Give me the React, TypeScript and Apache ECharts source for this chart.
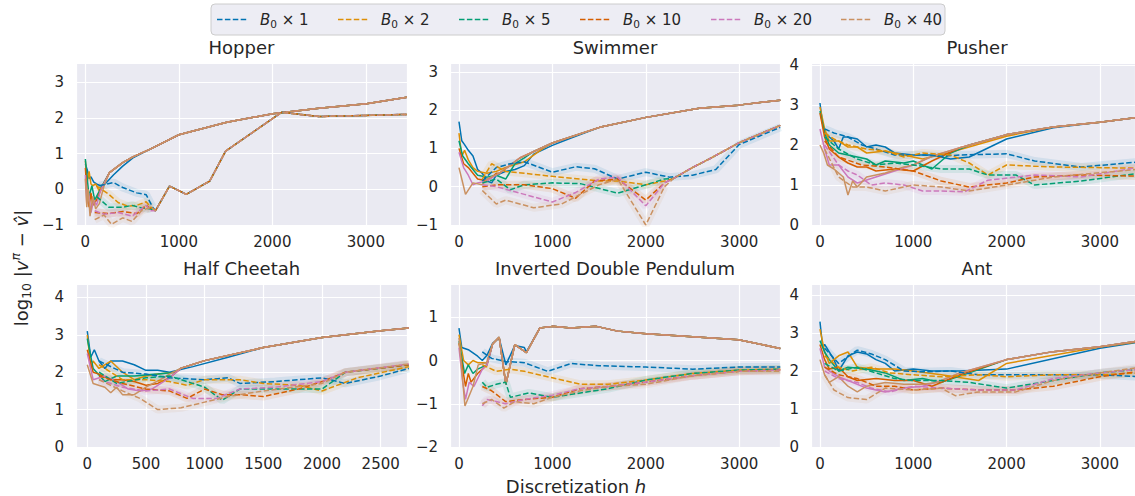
import React, { useEffect, useRef } from 'react';
import * as echarts from 'echarts';

type P = number[][];

const FONT = 'DejaVu Sans';
const TEXT = '#262626';
const COLORS = ['#0173b2', '#de8f05', '#029e73', '#d55e00', '#cc78bc', '#ca9161'];
const MULTIPLIERS = ['1', '2', '5', '10', '20', '40'];
const TITLES = ['Hopper', 'Swimmer', 'Pusher', 'Half Cheetah', 'Inverted Double Pendulum', 'Ant'];

// ---------- Hopper ----------
const hopperUpper: P = [[150, -0.05], [258, 0.47], [400, 0.75], [509, 0.91], [688, 1.12], [1000, 1.53], [1513, 1.88], [2004, 2.12], [2500, 2.27], [3007, 2.4], [3440, 2.58]];
const hopperSolidEarly: P[] = [
  [[0, 0.7], [20, 0.55], [40, 0.3], [60, 0.35], [90, 0.2], [120, 0.15], [160, 0.1], [200, 0.12], [300, 0.4], [400, 0.65], [509, 0.88]],
  [[0, 0.8], [20, 0.2], [40, 0.5], [60, 0.15], [80, 0.1], [110, 0.15], [150, -0.05]],
  [[0, 0.85], [20, 0.3], [40, -0.2], [70, 0.1], [100, -0.3], [130, -0.15], [170, 0.05]],
  [[0, 0.6], [20, -0.2], [40, -0.5], [60, -0.1], [80, -0.45], [120, -0.3], [160, -0.05]],
  [[0, 0.4], [15, -0.4], [35, -0.1], [60, -0.65], [90, -0.3], [120, -0.45], [160, -0.05]],
  [[0, 0.3], [15, -0.5], [30, 0.0], [50, -0.75], [80, -0.2], [110, -0.55], [150, -0.4], [200, 0.1]],
];
const hopperDashedTail: P = [[750, -0.6], [900, 0.09], [1080, -0.14], [1330, 0.23], [1500, 1.07], [2100, 2.16], [2300, 2.1], [2500, 2.04], [3000, 2.07], [3440, 2.1]];
const hopperDashedEarly: P[] = [
  [[150, 0.1], [300, 0.19], [400, 0.05], [550, -0.1], [650, -0.15], [720, -0.5]],
  [[120, 0.1], [250, -0.14], [350, -0.37], [450, -0.47], [550, -0.45], [650, -0.35], [700, -0.5]],
  [[120, -0.2], [250, -0.5], [400, -0.5], [500, -0.45], [600, -0.52], [700, -0.55]],
  [[100, -0.65], [250, -0.68], [400, -0.62], [550, -0.68], [650, -0.45], [700, -0.55]],
  [[100, -0.6], [200, -0.7], [350, -0.65], [500, -0.75], [650, -0.45], [700, -0.6]],
  [[100, -0.85], [200, -0.72], [280, -0.98], [400, -0.8], [500, -0.9], [600, -0.6], [700, -0.5]],
];

// ---------- Swimmer ----------
const swimmerUpper: P = [[300, 0.2], [438, 0.36], [651, 0.75], [1000, 1.14], [1505, 1.55], [2004, 1.81], [2573, 2.05], [2993, 2.13], [3440, 2.26]];
const swimmerSolidEarly: P[] = [
  [[0, 1.7], [30, 1.2], [60, 1.1], [100, 0.95], [150, 0.8], [200, 0.45], [250, 0.35], [300, 0.15], [350, 0.1], [400, 0.3], [500, 0.4], [600, 0.45], [700, 0.55], [800, 0.85], [1000, 1.08], [1200, 1.27]],
  [[0, 1.4], [30, 0.8], [60, 0.95], [100, 0.7], [150, 0.5], [200, 0.4], [300, 0.35], [400, 0.4], [500, 0.5], [700, 0.65], [900, 1.0]],
  [[0, 1.2], [40, 0.8], [100, 0.6], [200, 0.3], [300, 0.25], [400, 0.3], [500, 0.2], [600, 0.6], [700, 0.75], [800, 0.92]],
  [[0, 1.0], [50, 0.6], [100, 0.5], [200, 0.2], [300, 0.15], [400, 0.35]],
  [[0, 0.9], [50, 0.5], [100, 0.3], [150, 0.05], [200, 0.1], [300, 0.15]],
  [[0, 0.5], [30, 0.2], [70, -0.2], [150, 0.1], [250, 0.05], [300, 0.2]],
];
const swimmerDashedTail: P = [[2300, 0.22], [2500, 0.5], [2700, 0.75], [3000, 1.15], [3440, 1.6]];
const swimmerDashedEarly: P[] = [
  [[250, 0.15], [400, 0.5], [550, 0.6], [700, 0.65], [1000, 0.38], [1250, 0.52], [1450, 0.47], [1700, 0.2], [2000, 0.38], [2250, 0.25], [2500, 0.3], [2750, 0.45], [3000, 1.1], [3440, 1.55]],
  [[250, 0.2], [350, 0.6], [500, 0.4], [700, 0.35], [1000, 0.27], [1500, 0.15], [1700, 0.15], [2000, 0.05], [2200, 0.15]],
  [[250, 0.1], [400, 0.2], [550, -0.08], [700, 0.05], [1000, 0.1], [1300, 0.08], [1700, -0.17], [2000, 0.05], [2200, 0.2]],
  [[250, 0.0], [400, 0.05], [700, 0.05], [1000, -0.05], [1250, -0.3], [1450, 0.15], [1700, 0.2], [2000, -0.35], [2200, 0.1]],
  [[250, 0.05], [400, 0.0], [700, -0.2], [1000, -0.4], [1250, -0.15], [1500, 0.2], [1700, 0.25], [2000, -0.5], [2200, 0.1]],
  [[250, -0.1], [400, -0.45], [500, -0.35], [800, -0.55], [1100, -0.45], [1500, 0.05], [1700, 0.2], [2000, -1.0], [2200, 0.0]],
];

// ---------- Pusher ----------
const pusherUpper: P = [[1000, 1.5], [1200, 1.72], [1500, 1.93], [2000, 2.26], [2500, 2.45], [3000, 2.57], [3440, 2.7]];
const pusherSolidEarly: P[] = [
  [[0, 3.05], [30, 2.5], [60, 2.3], [100, 2.2], [150, 2.1], [200, 1.9], [250, 2.2], [300, 2.2], [400, 2.15], [500, 1.95], [600, 2.0], [700, 1.95], [800, 1.8], [1000, 1.75], [1200, 1.75], [1400, 1.65], [1600, 1.7], [2000, 2.15], [2500, 2.43]],
  [[0, 2.95], [50, 2.4], [100, 2.1], [200, 2.1], [300, 1.95], [400, 1.95], [500, 1.8], [700, 1.85], [900, 1.75], [1100, 1.65], [1400, 1.82], [2000, 2.22]],
  [[0, 2.85], [50, 2.3], [100, 2.0], [200, 1.8], [300, 1.75], [400, 1.7], [500, 1.65], [600, 1.5], [700, 1.6], [900, 1.55], [1000, 1.6], [1200, 1.4], [1400, 1.8], [1600, 2.0]],
  [[0, 2.8], [50, 2.2], [100, 1.9], [200, 1.7], [300, 1.55], [400, 1.45], [500, 1.45], [600, 1.35], [800, 1.4], [1000, 1.35], [1200, 1.6], [1500, 1.93]],
  [[0, 2.4], [50, 1.9], [100, 1.5], [200, 1.5], [300, 1.2], [400, 1.05], [600, 1.2], [800, 1.35]],
  [[0, 2.0], [40, 1.8], [80, 1.5], [150, 1.4], [250, 1.2], [300, 0.75], [350, 1.1], [400, 0.95], [500, 1.2], [700, 1.3], [900, 1.45]],
];
const pusherDashed: P[] = [
  [[50, 2.4], [150, 2.3], [300, 2.2], [450, 2.0], [600, 1.9], [800, 1.75], [1100, 1.75], [1300, 1.72], [1500, 1.75], [2000, 1.78], [2300, 1.6], [2800, 1.45], [3440, 1.58]],
  [[50, 2.3], [150, 2.15], [300, 2.0], [500, 1.9], [700, 1.85], [900, 1.7], [1100, 1.8], [1400, 1.75], [1600, 1.55], [1800, 1.25], [2000, 1.5], [2500, 1.45], [3440, 1.42]],
  [[50, 2.2], [200, 1.9], [400, 1.65], [600, 1.5], [800, 1.55], [1000, 1.5], [1300, 1.4], [1600, 1.4], [1800, 1.25], [2100, 1.25], [2300, 1.0], [2800, 1.1], [3440, 1.3]],
  [[50, 2.1], [200, 1.7], [450, 1.5], [700, 1.45], [1000, 1.35], [1300, 1.1], [1600, 0.95], [2000, 1.05], [2300, 1.2], [2800, 1.25], [3440, 1.22]],
  [[50, 2.0], [200, 1.5], [300, 1.35], [400, 1.25], [550, 1.0], [700, 1.05], [900, 1.0], [1100, 0.85], [1300, 0.85], [1550, 0.83], [1800, 1.12], [2300, 1.25], [2800, 1.2], [3440, 1.45]],
  [[50, 1.9], [200, 1.2], [350, 0.95], [500, 0.95], [700, 0.85], [1000, 1.0], [1300, 0.95], [1600, 0.85], [2000, 1.0], [2500, 1.2], [3440, 1.4]],
];

// ---------- Half Cheetah ----------
const hcUpper: P = [[700, 1.95], [800, 2.11], [1000, 2.31], [1500, 2.66], [2000, 2.93], [2500, 3.11], [2740, 3.18]];
const hcSolidEarly: P[] = [
  [[0, 3.1], [30, 2.4], [60, 2.6], [100, 2.3], [150, 2.1], [200, 2.3], [300, 2.3], [400, 2.2], [500, 2.05], [600, 2.05], [700, 2.0], [900, 2.15], [1200, 2.4]],
  [[0, 3.0], [30, 2.1], [50, 2.3], [100, 2.1], [200, 2.3], [300, 2.0], [400, 1.8], [500, 1.9], [600, 1.95], [750, 2.0]],
  [[0, 2.9], [50, 2.1], [150, 1.75], [250, 1.9], [400, 1.9], [600, 1.95], [750, 2.0]],
  [[0, 2.6], [50, 2.0], [100, 1.95], [200, 1.8], [300, 1.8], [400, 1.75], [500, 1.65], [600, 1.7], [700, 1.85]],
  [[0, 2.5], [50, 1.8], [150, 1.9], [250, 1.75], [350, 1.55], [450, 1.5], [550, 1.55], [700, 1.85]],
  [[0, 2.2], [50, 1.7], [150, 1.6], [200, 1.45], [250, 1.6], [300, 1.4], [400, 1.4], [500, 1.6], [650, 1.85]],
];
const hcDashed: P[] = [
  [[100, 2.3], [300, 2.0], [500, 1.95], [700, 1.85], [1000, 1.8], [1200, 1.85], [1300, 1.7], [1600, 1.75], [2000, 1.85], [2200, 1.7], [2500, 1.9], [2740, 2.1]],
  [[100, 2.2], [300, 1.8], [500, 1.8], [700, 1.75], [850, 1.65], [1000, 1.8], [1300, 1.8], [1500, 1.7], [1800, 1.65], [2000, 1.5], [2300, 1.85], [2740, 2.15]],
  [[100, 2.0], [250, 1.7], [500, 1.85], [700, 1.9], [1000, 1.6], [1150, 1.25], [1300, 1.55], [1600, 1.55], [2000, 1.55], [2200, 2.0], [2740, 2.2]],
  [[100, 1.9], [300, 1.7], [500, 1.55], [700, 1.5], [850, 1.3], [1000, 1.55], [1150, 1.4], [1300, 1.4], [1500, 1.35], [1800, 1.55], [2000, 1.75], [2200, 2.0], [2740, 2.2]],
  [[100, 1.8], [300, 1.6], [500, 1.5], [700, 1.55], [900, 1.3], [1100, 1.3], [1300, 1.55], [1600, 1.6], [2000, 1.75], [2200, 2.0], [2740, 2.22]],
  [[100, 1.8], [300, 1.5], [450, 1.3], [600, 1.0], [800, 1.05], [1000, 1.2], [1200, 1.35], [1500, 1.5], [2000, 1.7], [2200, 2.0], [2740, 2.22]],
];

// ---------- Inverted Double Pendulum ----------
const idpUpper: P = [[0, 0.52], [64, -1.05], [150, -0.6], [206, -0.1], [295, -0.05], [360, 0.38], [430, 0.54], [502, -0.55], [598, 0.37], [722, 0.18], [865, 0.75], [1000, 0.79], [1200, 0.75], [1470, 0.79], [1700, 0.68], [2004, 0.62], [2500, 0.55], [2993, 0.48], [3440, 0.28]];
const idpSolidEarly: P[] = [
  [[0, 0.75], [30, 0.3], [100, 0.25], [200, 0.1], [250, 0.0], [300, 0.12], [360, 0.4], [430, 0.52], [502, -0.1], [598, 0.35], [700, 0.3], [722, 0.2]],
  [[0, 0.6], [50, 0.0], [100, -0.1], [150, 0.0], [200, -0.05], [300, -0.05]],
  [[0, 0.45], [60, -0.3], [100, -0.1], [150, -0.3], [200, -0.2], [300, -0.1]],
  [[0, 0.4], [40, -0.2], [70, -0.6], [100, -0.3], [130, -0.5], [200, -0.3], [300, -0.1]],
  [[0, 0.3], [40, -0.5], [70, -0.9], [110, -0.5], [160, -0.6], [250, -0.2], [300, -0.1]],
  [[0, 0.52]],
];
const idpDashed: P[] = [
  [[250, 0.2], [350, 0.05], [500, -0.02], [700, -0.05], [950, -0.25], [1200, -0.07], [1500, -0.12], [2000, -0.15], [2500, -0.2], [3000, -0.15], [3440, -0.15]],
  [[250, -0.1], [400, -0.25], [550, -0.2], [700, -0.25], [1000, -0.4], [1300, -0.55], [1600, -0.55], [2000, -0.45], [2500, -0.3], [3000, -0.22], [3440, -0.2]],
  [[250, -0.5], [300, -0.62], [400, -0.55], [500, -0.5], [550, -0.85], [750, -0.75], [1000, -0.85], [1300, -0.75], [1600, -0.65], [2000, -0.45], [2500, -0.3], [3000, -0.22], [3440, -0.2]],
  [[250, -0.6], [350, -0.7], [500, -0.95], [700, -0.9], [1000, -0.85], [1300, -0.65], [1600, -0.6], [2000, -0.5], [2500, -0.35], [3000, -0.25], [3440, -0.22]],
  [[250, -1.05], [300, -0.9], [400, -0.95], [500, -1.0], [700, -0.9], [1000, -0.8], [1300, -0.65], [1600, -0.6], [2000, -0.5], [2500, -0.35], [3000, -0.25], [3440, -0.22]],
  [[250, -1.0], [350, -0.9], [480, -1.1], [600, -0.95], [800, -1.0], [1000, -0.85], [1300, -0.7], [1600, -0.6], [2000, -0.55], [2500, -0.35], [3000, -0.25], [3440, -0.25]],
];

// ---------- Ant ----------
const antUpper: P = [[1250, 1.7], [1500, 1.95], [2000, 2.3], [2500, 2.51], [3000, 2.64], [3440, 2.8]];
const antSolidEarly: P[] = [
  [[0, 3.3], [30, 2.6], [50, 2.7], [100, 2.5], [150, 2.3], [200, 2.0], [300, 2.4], [400, 2.5], [500, 2.45], [600, 2.3], [700, 2.2], [800, 2.0], [1000, 2.05], [1200, 2.0], [1500, 2.0], [2000, 2.05], [3000, 2.6], [3440, 2.77]],
  [[0, 3.1], [50, 2.5], [100, 2.2], [200, 2.4], [300, 2.5], [400, 2.1], [600, 2.05], [800, 2.05], [1000, 2.0], [1300, 1.9], [1700, 1.75], [2000, 2.2], [3000, 2.63], [3440, 2.78]],
  [[0, 2.8], [50, 2.5], [100, 2.3], [200, 2.0], [300, 2.1], [500, 2.05], [700, 1.95], [900, 1.75], [1100, 1.8], [1300, 1.7], [1600, 1.95]],
  [[0, 2.7], [50, 2.3], [100, 2.05], [200, 2.1], [300, 1.85], [400, 1.75], [600, 1.8], [800, 1.75], [1000, 1.75], [1200, 1.6], [1500, 1.9]],
  [[0, 2.6], [50, 2.1], [100, 2.0], [200, 1.85], [300, 1.75], [500, 1.55], [700, 1.45], [900, 1.55], [1100, 1.6], [1300, 1.75]],
  [[0, 2.3], [50, 1.9], [100, 1.7], [200, 1.85], [300, 1.6], [400, 1.45], [500, 1.6], [700, 1.7], [900, 1.65], [1100, 1.65]],
];
const antDashed: P[] = [
  [[50, 2.6], [200, 2.2], [400, 2.55], [550, 2.45], [700, 2.3], [900, 2.0], [1100, 1.98], [1400, 2.0], [1700, 1.9], [2000, 1.9], [2500, 1.9], [3000, 1.9], [3440, 1.85]],
  [[50, 2.4], [200, 2.1], [350, 2.0], [550, 2.1], [750, 1.95], [1000, 1.9], [1300, 1.85], [1700, 1.9], [2000, 1.85], [2500, 1.9], [3000, 1.9], [3440, 1.95]],
  [[50, 2.2], [200, 2.0], [400, 2.1], [600, 1.95], [800, 1.8], [1000, 1.75], [1300, 1.75], [1600, 1.7], [2000, 1.55], [2500, 1.75], [3000, 1.95], [3440, 2.05]],
  [[50, 2.1], [200, 1.9], [400, 1.8], [600, 1.6], [800, 1.6], [1000, 1.5], [1300, 1.55], [1700, 1.5], [2100, 1.5], [2500, 1.6], [3000, 1.85], [3440, 2.0]],
  [[50, 2.0], [200, 1.8], [400, 1.7], [550, 1.55], [750, 1.45], [1000, 1.6], [1300, 1.55], [1700, 1.5], [2100, 1.5], [2500, 1.8], [3000, 1.95], [3440, 2.05]],
  [[50, 1.9], [150, 1.5], [300, 1.3], [500, 1.25], [700, 1.55], [1000, 1.5], [1300, 1.55], [1450, 1.35], [1700, 1.45], [2100, 1.45], [2500, 1.75], [3000, 1.95], [3440, 2.1]],
];

function join(early: P, tail: P): P {
  const last = early[early.length - 1][0];
  return early.concat(tail.filter((p) => p[0] > last));
}

const SOLID: P[][] = [
  hopperSolidEarly.map((e) => join(e, hopperUpper)),
  swimmerSolidEarly.map((e) => join(e, swimmerUpper)),
  pusherSolidEarly.map((e) => join(e, pusherUpper)),
  hcSolidEarly.map((e) => join(e, hcUpper)),
  idpSolidEarly.map((e) => join(e, idpUpper)),
  antSolidEarly.map((e) => join(e, antUpper)),
];
const DASHED: P[][] = [
  hopperDashedEarly.map((e) => join(e, hopperDashedTail)),
  swimmerDashedEarly.map((e) => join(e, swimmerDashedTail)),
  pusherDashed,
  hcDashed,
  idpDashed,
  antDashed,
];
// confidence bands drawn only where the runs differ
const BANDS: P[][] = [
  hopperDashedEarly,
  swimmerDashedEarly,
  pusherDashed,
  hcDashed,
  idpDashed,
  antDashed,
];

// layout: left, top, width, height, xMin, xMax, xSplit, yMin, yMax
const LAYOUT = [
  [76, 63, 331, 162, -100, 3440, 4, -1, 3.54],
  [450, 63, 330, 162, -96, 3437, 4, -1, 3.23],
  [811, 63, 324, 162, -96, 3376, 4, 0, 4.05],
  [76, 284, 331, 163, -96, 2724, 5, 0, 4.36],
  [450, 284, 330, 163, -96, 3437, 4, -2, 1.77],
  [811, 284, 324, 163, -96, 3376, 4, 0, 4.29],
];
const TITLE_POS = [[241.5, 47], [615, 47], [977, 47], [241.5, 268], [615, 268], [977, 268]];
const LEGEND_X = [217, 338, 459, 580, 711, 841];

const fmt = (v: number) => (v < 0 ? '\u2212' + Math.abs(v) : String(v));

export default function App() {
  const ref = useRef<HTMLDivElement>(null);
  useEffect(() => {
    if (!ref.current) return;
    const chart = echarts.init(ref.current, undefined, { renderer: 'svg' });

    const grid = LAYOUT.map((l) => ({
      left: l[0], top: l[1], width: l[2], height: l[3],
      show: true, backgroundColor: '#EAEAF2', borderWidth: 0,
      containLabel: false, outerBoundsMode: 'none',
    }));
    const xAxis = LAYOUT.map((l, i) => ({
      type: 'value', gridIndex: i, min: l[4], max: l[5], splitNumber: l[6],
      axisLine: { show: false }, axisTick: { show: false },
      axisLabel: { color: TEXT, fontSize: 15, fontFamily: FONT, margin: 9, showMinLabel: false, showMaxLabel: false, formatter: fmt },
      splitLine: { show: true, lineStyle: { color: '#ffffff', width: 1.2 } },
    }));
    const yAxis = LAYOUT.map((l, i) => ({
      type: 'value', gridIndex: i, min: l[7], max: l[8], interval: 1,
      axisLine: { show: false }, axisTick: { show: false },
      axisLabel: { color: TEXT, fontSize: 15, fontFamily: FONT, margin: 12, showMinLabel: true, showMaxLabel: false, formatter: fmt },
      splitLine: { show: true, lineStyle: { color: '#ffffff', width: 1.2 } },
    }));

    const series: any[] = [];
    for (let p = 0; p < 6; p++) {
      const base = {
        type: 'line', xAxisIndex: p, yAxisIndex: p, showSymbol: false, symbol: 'none',
        silent: true, clip: true, emphasis: { disabled: true },
      };
      for (let c = 0; c < 6; c++) {
        series.push({ ...base, name: `band-${p}-${c}`, data: BANDS[p][c], z: 1,
          lineStyle: { color: COLORS[c], width: 8, opacity: 0.1 } });
      }
      for (let c = 0; c < 6; c++) {
        series.push({ ...base, name: `solid-${p}-${c}`, data: SOLID[p][c], z: 2,
          lineStyle: { color: COLORS[c], width: 1.5 } });
        series.push({ ...base, name: `B0x${MULTIPLIERS[c]}-${p}`, data: DASHED[p][c], z: 3,
          lineStyle: { color: COLORS[c], width: 1.5, type: [5.5, 2.4] } });
      }
    }

    const graphic: any[] = [];
    TITLES.forEach((t, i) => {
      graphic.push({
        type: 'text', x: TITLE_POS[i][0], y: TITLE_POS[i][1], silent: true,
        style: { text: t, fill: TEXT, fontSize: 18, fontFamily: FONT, textAlign: 'center', textVerticalAlign: 'middle', verticalAlign: 'middle' },
      });
    });
    // legend
    graphic.push({
      type: 'rect', shape: { x: 211, y: 4, width: 734, height: 31, r: 4 }, silent: true,
      style: { fill: '#EDEDF4', stroke: '#CCCCCC', lineWidth: 1 },
    });
    MULTIPLIERS.forEach((m, i) => {
      const x0 = LEGEND_X[i];
      graphic.push({
        type: 'line', shape: { x1: x0, y1: 19.5, x2: x0 + 30, y2: 19.5 }, silent: true,
        style: { stroke: COLORS[i], lineWidth: 1.5, lineDash: [5.5, 2.4] },
      });
      graphic.push({
        type: 'text', x: x0 + 43, y: 19.5, silent: true,
        style: {
          text: `{i|B}{s|0}{n| × ${m}}`, textAlign: 'left', textVerticalAlign: 'middle', verticalAlign: 'middle',
          fontFamily: FONT, fontSize: 15, fill: TEXT,
          rich: {
            i: { fontStyle: 'italic', fontSize: 15, fontFamily: FONT, fill: TEXT, lineHeight: 19 },
            s: { fontSize: 10.5, fontFamily: FONT, fill: TEXT, lineHeight: 10, verticalAlign: 'bottom' },
            n: { fontSize: 15, fontFamily: FONT, fill: TEXT, lineHeight: 19 },
          },
        },
      });
    });
    // axis titles
    graphic.push({
      type: 'text', x: 576, y: 486, silent: true,
      style: {
        text: '{n|Discretization }{i|h}', textAlign: 'center', textVerticalAlign: 'middle', verticalAlign: 'middle',
        fontFamily: FONT, fontSize: 18, fill: TEXT,
        rich: {
          n: { fontSize: 18, fontFamily: FONT, fill: TEXT },
          i: { fontSize: 18, fontFamily: FONT, fill: TEXT, fontStyle: 'italic' },
        },
      },
    });
    graphic.push({
      type: 'text', x: 21, y: 268, rotation: Math.PI / 2, silent: true,
      style: {
        text: '{n|log}{s|10}{n| |}{i|v}{p|π}{n| − }{i|v̂}{n||}', textAlign: 'center', textVerticalAlign: 'middle', verticalAlign: 'middle',
        fontFamily: FONT, fontSize: 18, fill: TEXT,
        rich: {
          n: { fontSize: 18, fontFamily: FONT, fill: TEXT, lineHeight: 24 },
          i: { fontSize: 18, fontFamily: FONT, fill: TEXT, fontStyle: 'italic', lineHeight: 24 },
          s: { fontSize: 12.5, fontFamily: FONT, fill: TEXT, lineHeight: 13, verticalAlign: 'bottom' },
          p: { fontSize: 12.5, fontFamily: FONT, fill: TEXT, fontStyle: 'italic', lineHeight: 13, verticalAlign: 'top' },
        },
      },
    });

    chart.setOption({
      animation: false,
      backgroundColor: '#ffffff',
      textStyle: { fontFamily: FONT },
      grid, xAxis, yAxis, series, graphic,
    });
    return () => chart.dispose();
  }, []);

  return <div ref={ref} style={{ position: 'fixed', left: 0, top: 0, width: 1135, height: 496 }} />;
}
